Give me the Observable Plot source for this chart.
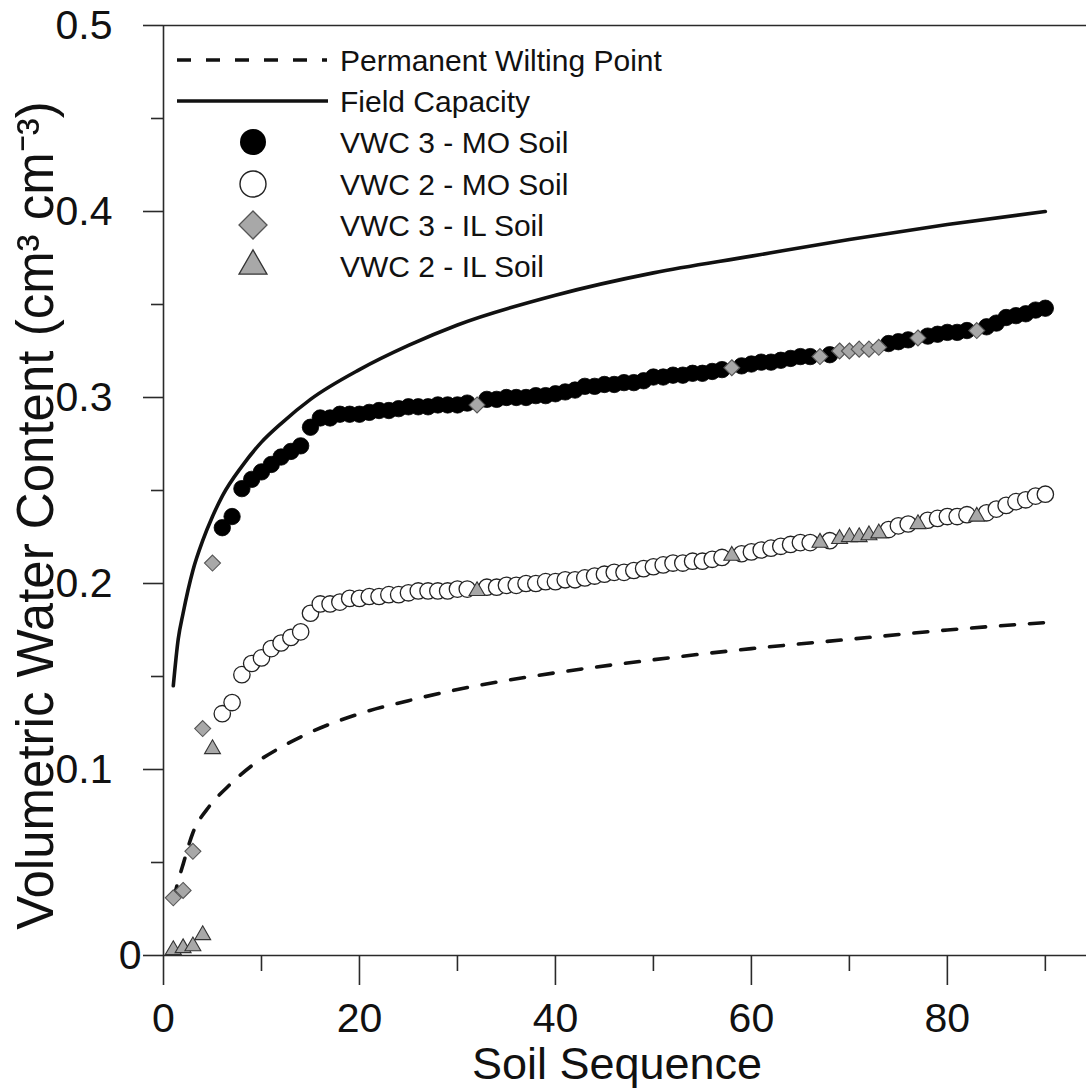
<!DOCTYPE html>
<html>
<head>
<meta charset="utf-8">
<script src="https://cdn.jsdelivr.net/npm/d3@7"></script>
<script src="https://cdn.jsdelivr.net/npm/@observablehq/plot@0.6"></script>
<style>
html, body { margin: 0; padding: 0; background: #fff; }
#chart { position: relative; width: 1086px; height: 1091px; }
</style>
</head>
<body>
<div id="chart"></div>
<script>
// ---- Data ----
const xMajorTicks = [0, 20, 40, 60, 80];
const xMinorTicks = [10, 30, 50, 70, 90];
const yMajorTicks = [0.1, 0.2, 0.3, 0.4, 0.5];
const yZeroTick = [0];
const yMinorTicks = [0.05, 0.15, 0.25, 0.35, 0.45];

const xTitle = "Soil Sequence";
const yTitle = "Volumetric Water Content (cm³ cm⁻³)";
const legendLabels = ["Permanent Wilting Point", "Field Capacity", "VWC 3 - MO Soil", "VWC 2 - MO Soil", "VWC 3 - IL Soil", "VWC 2 - IL Soil"];

// Field capacity (solid line)
const fcSeq = [1, 1.5, 2, 3, 4, 5, 6, 8, 10, 12, 15, 20, 25, 30, 40, 50, 60, 70, 80, 90];
const fcVwc = [0.145, 0.170, 0.184, 0.207, 0.223, 0.236, 0.247, 0.263, 0.276, 0.286, 0.299, 0.315, 0.328, 0.339, 0.355, 0.367, 0.376, 0.385, 0.393, 0.400];

// Permanent wilting point (dashed line)
const pwpSeq = [1, 1.5, 2, 3, 4.5, 6.5, 9, 12, 15, 20, 25, 30, 40, 50, 60, 70, 80, 90];
const pwpVwc = [0.030, 0.040, 0.049, 0.066, 0.079, 0.0905, 0.102, 0.112, 0.120, 0.130, 0.137, 0.143, 0.152, 0.159, 0.165, 0.170, 0.175, 0.179];

// MO soils
const moSeq = [6, 7, 8, 9, 10, 11, 12, 13, 14, 15,
  16, 17, 18, 19, 20, 21, 22, 23, 24, 25,
  26, 27, 28, 29, 30, 31,
  33, 34, 35, 36, 37, 38, 39, 40, 41, 42,
  43, 44, 45, 46, 47, 48, 49, 50, 51, 52,
  53, 54, 55, 56, 57,
  59, 60, 61, 62, 63, 64, 65, 66,
  68,
  74, 75, 76,
  78, 79, 80, 81, 82,
  84, 85, 86, 87, 88, 89, 90];
const moVwc3 = [0.230, 0.236, 0.251, 0.256, 0.260, 0.264, 0.268, 0.271, 0.274, 0.284,
  0.289, 0.289, 0.291, 0.291, 0.291, 0.292, 0.293, 0.293, 0.294, 0.295,
  0.295, 0.295, 0.296, 0.296, 0.296, 0.297,
  0.299, 0.299, 0.300, 0.300, 0.300, 0.301, 0.301, 0.302, 0.303, 0.304,
  0.306, 0.306, 0.307, 0.307, 0.308, 0.308, 0.309, 0.311, 0.311, 0.312,
  0.312, 0.313, 0.313, 0.314, 0.315,
  0.317, 0.318, 0.319, 0.319, 0.320, 0.321, 0.322, 0.322,
  0.323,
  0.329, 0.330, 0.331,
  0.333, 0.334, 0.335, 0.335, 0.336,
  0.338, 0.340, 0.343, 0.344, 0.345, 0.347, 0.348];
const moVwc2 = [0.130, 0.136, 0.151, 0.157, 0.160, 0.165, 0.168, 0.171, 0.174, 0.184,
  0.189, 0.189, 0.190, 0.192, 0.192, 0.193, 0.193, 0.194, 0.194, 0.195,
  0.196, 0.196, 0.196, 0.196, 0.197, 0.197,
  0.198, 0.198, 0.199, 0.199, 0.200, 0.200, 0.201, 0.201, 0.202, 0.202,
  0.203, 0.204, 0.205, 0.206, 0.206, 0.207, 0.208, 0.209, 0.210, 0.211,
  0.211, 0.212, 0.212, 0.213, 0.214,
  0.216, 0.217, 0.218, 0.219, 0.220, 0.221, 0.222, 0.222,
  0.223,
  0.229, 0.231, 0.232,
  0.234, 0.235, 0.236, 0.236, 0.237,
  0.238, 0.240, 0.242, 0.244, 0.245, 0.247, 0.248];

// IL soils
const ilSeq = [1, 2, 3, 4, 5, 32, 58, 67, 69, 70, 71, 72, 73, 77, 83];
const ilVwc3 = [0.031, 0.035, 0.056, 0.122, 0.211, 0.296, 0.316, 0.322, 0.325, 0.325, 0.326, 0.326, 0.327, 0.332, 0.336];
const ilVwc2 = [0.003, 0.004, 0.005, 0.011, 0.111, 0.196, 0.215, 0.222, 0.224, 0.225, 0.225, 0.226, 0.227, 0.232, 0.236];

// ---- Tables built from the arrays ----
const fc = fcSeq.map((s, i) => ({seq: s, vwc: fcVwc[i]}));
const pwp = pwpSeq.map((s, i) => ({seq: s, vwc: pwpVwc[i]}));
const mo = moSeq.map((s, i) => ({seq: s, vwc3: moVwc3[i], vwc2: moVwc2[i]}));
const il = ilSeq.map((s, i) => ({seq: s, vwc3: ilVwc3[i], vwc2: ilVwc2[i]}));

const FONT = "'Liberation Sans', Arial, Helvetica, sans-serif";
const AX = "#2a2a2a";
const GRAY = "#a8a8a8";

const chart = Plot.plot({
  width: 1086,
  height: 1091,
  marginLeft: 163,
  marginRight: 0,
  marginTop: 25,
  marginBottom: 136,
  style: {fontFamily: FONT, fontSize: "41px", color: "#111", background: "#fff"},
  x: {domain: [0, 94.2], label: null},
  y: {domain: [0, 0.5], label: null},
  marks: [
    // frame lines
    Plot.ruleY([0.5], {stroke: AX, strokeWidth: 1.6}),
    Plot.ruleY([0], {stroke: AX, strokeWidth: 1.6}),
    Plot.ruleX([0], {stroke: AX, strokeWidth: 1.6}),
    // axes
    Plot.axisX({ticks: xMajorTicks, tickSize: 30, tickPadding: 17, stroke: AX, strokeWidth: 1.6, label: null, tickFormat: d => String(d)}),
    Plot.axisX({ticks: xMinorTicks, tickSize: 16, stroke: AX, strokeWidth: 1.6, label: null, tickFormat: () => ""}),
    Plot.axisY({ticks: yMajorTicks, tickSize: 20, tickPadding: 31, stroke: AX, strokeWidth: 1.6, label: null, tickFormat: d => d.toFixed(1)}),
    Plot.axisY({ticks: yZeroTick, tickSize: 20, tickPadding: 2, stroke: AX, strokeWidth: 1.6, label: null, tickFormat: () => "0"}),
    Plot.axisY({ticks: yMinorTicks, tickSize: 12, stroke: AX, strokeWidth: 1.6, label: null, tickFormat: () => ""}),
    // reference curves
    Plot.line(pwp, {x: "seq", y: "vwc", curve: "monotone-x", stroke: "#111", strokeWidth: 3.6, strokeDasharray: "14 15"}),
    Plot.line(fc, {x: "seq", y: "vwc", curve: "monotone-x", stroke: "#111", strokeWidth: 3.6}),
    // points
    Plot.dot(mo, {x: "seq", y: "vwc3", r: 8.2, fill: "#000", stroke: "#000", strokeWidth: 0.8}),
    Plot.dot(mo, {x: "seq", y: "vwc2", r: 8.2, fill: "#fff", stroke: "#222", strokeWidth: 1.3}),
    Plot.dot(il, {x: "seq", y: "vwc3", symbol: "diamond2", r: 7.2, fill: GRAY, stroke: "#555", strokeWidth: 1.1}),
    Plot.dot(il, {x: "seq", y: "vwc2", symbol: "triangle2", r: 7.6, fill: GRAY, stroke: "#333", strokeWidth: 1.1}),
    // axis titles
    Plot.text([xTitle], {text: d => d, frameAnchor: "bottom", textAnchor: "middle", lineAnchor: "bottom", dy: 123, dx: -8, fontSize: 45, fill: "#111"}),
    Plot.text([yTitle], {text: d => d, frameAnchor: "left", textAnchor: "middle", lineAnchor: "middle", rotate: -90, dx: -127, dy: 25, fontSize: 51, fill: "#111"})
  ]
});

document.getElementById("chart").appendChild(chart);

// ---- Legend (inside the plot area, top-left) ----
const svg = d3.select(chart);
const lg = svg.append("g").attr("font-family", FONT).attr("font-size", 30).attr("fill", "#111").attr("text-anchor", "start");
const rowsY = [60, 101, 142, 184, 225, 266];
const textX = 340;
// line samples
lg.append("line").attr("x1", 177).attr("x2", 327).attr("y1", rowsY[0]).attr("y2", rowsY[0])
  .attr("stroke", "#111").attr("stroke-width", 3.6).attr("stroke-dasharray", "14 15");
lg.append("line").attr("x1", 177).attr("x2", 328).attr("y1", rowsY[1]).attr("y2", rowsY[1])
  .attr("stroke", "#111").attr("stroke-width", 3.6);
const symX = 253;
lg.append("circle").attr("cx", symX).attr("cy", rowsY[2]).attr("r", 13).attr("fill", "#000");
lg.append("circle").attr("cx", symX).attr("cy", rowsY[3]).attr("r", 13).attr("fill", "#fff").attr("stroke", "#222").attr("stroke-width", 1.4);
lg.append("path").attr("transform", `translate(${symX},${rowsY[4]})`)
  .attr("d", d3.symbol(d3.symbolDiamond2, 500)()).attr("fill", GRAY).attr("stroke", "#555").attr("stroke-width", 1.3);
lg.append("path").attr("transform", `translate(${symX},${rowsY[5]})`)
  .attr("d", d3.symbol(d3.symbolTriangle2, 560)()).attr("fill", GRAY).attr("stroke", "#333").attr("stroke-width", 1.3);
legendLabels.forEach((t, i) => {
  lg.append("text").attr("x", textX).attr("y", rowsY[i]).attr("dy", "0.35em").attr("text-anchor", "start").text(t);
});
</script>
</body>
</html>
